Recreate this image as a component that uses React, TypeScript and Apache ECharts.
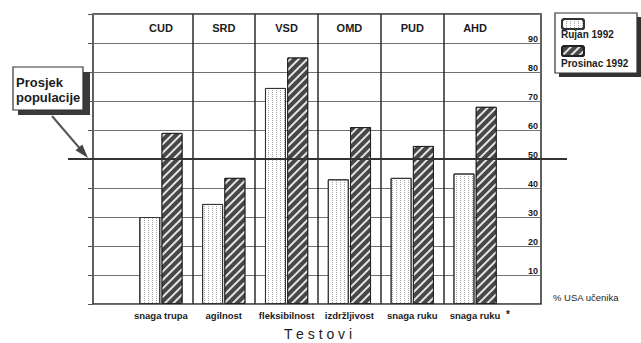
import React, { useEffect, useRef } from 'react';
import * as echarts from 'echarts';

// ---- data ----
const categories = ['CUD', 'SRD', 'VSD', 'OMD', 'PUD', 'AHD'];
const testNames = ['snaga trupa', 'agilnost', 'fleksibilnost', 'izdržljivost', 'snaga ruku', 'snaga ruku'];
const rujan1992 = [30, 34.5, 74.5, 43, 43.5, 45];
const prosinac1992 = [59, 43.5, 85, 61, 54.5, 68];
const populationAverage = 50;
const seriesNames = ['Rujan 1992', 'Prosinac 1992'];

// ---- layout ----
const W = 641;
const H = 343;
const FRAME_L = 93;
const FRAME_R = 541;
const BAR_L = 129.5;
const BAR_R = 506.5;
const AVG_L = 68;
const AVG_R = 567;
const TOP = 14;
const BOTTOM = 304;

export default function App() {
  const ref = useRef<HTMLDivElement>(null);
  useEffect(() => {
    if (!ref.current) return;
    const chart = echarts.init(ref.current, null, { renderer: 'svg' });
    const n = categories.length;
    const band = (BAR_R - BAR_L) / n;
    const xMin = -0.5 - (BAR_L - FRAME_L) / band;
    const xMax = n - 0.5 + (FRAME_R - BAR_R) / band;
    const separators = categories.slice(1).map((_, i) => i + 0.5);
    const font = "'Liberation Sans', Arial, sans-serif";
    const ink = '#1c1c1c';

    chart.setOption({
      animation: false,
      backgroundColor: '#ffffff',
      textStyle: { fontFamily: font },
      grid: [
        { left: FRAME_L, right: W - FRAME_R, top: TOP, bottom: H - BOTTOM, outerBoundsMode: 'none', containLabel: false, show: true, borderColor: '#2b2b2b', borderWidth: 1.5, backgroundColor: 'transparent' },
        { left: BAR_L, right: W - BAR_R, top: TOP, bottom: H - BOTTOM, outerBoundsMode: 'none', containLabel: false },
        { left: AVG_L, right: W - AVG_R, top: TOP, bottom: H - BOTTOM, outerBoundsMode: 'none', containLabel: false },
      ],
      xAxis: [
        { type: 'value', gridIndex: 0, min: xMin, max: xMax, show: false },
        {
          type: 'category', gridIndex: 1, data: categories, position: 'bottom',
          axisLine: { show: false, onZero: false }, axisTick: { show: false },
          axisLabel: {
            interval: 0, margin: 6, fontSize: 9.5, fontWeight: 'bold', color: ink, fontFamily: font,
            formatter: (_v: string, i: number) => testNames[i],
          },
          name: 'T e s t o v i', nameLocation: 'middle', nameGap: 23,
          nameTextStyle: { fontSize: 14, color: ink, fontFamily: font },
        },
        {
          type: 'category', gridIndex: 1, data: categories, position: 'top',
          axisLine: { show: false, onZero: false }, axisTick: { show: false },
          axisLabel: { interval: 0, inside: true, margin: 8, fontSize: 11, fontWeight: 'bold', color: ink, fontFamily: font },
        },
        { type: 'value', gridIndex: 2, min: 0, max: 1, show: false },
      ],
      yAxis: [
        {
          type: 'value', gridIndex: 0, min: 0, max: 100, interval: 10, position: 'right',
          axisLine: { show: false }, axisTick: { show: false },
          splitLine: { show: true, lineStyle: { color: '#727272', width: 1 } },
          axisLabel: {
            inside: true, margin: 3, fontSize: 9, fontWeight: 'bold', color: ink, fontFamily: font,
            verticalAlign: 'bottom',
            formatter: (v: number) => (v === 0 || v === 100 ? '' : String(v)),
          },
        },
        {
          type: 'value', gridIndex: 0, min: 0, max: 100, interval: 10, position: 'left',
          axisLine: { show: false }, axisTick: { show: true, length: 5, lineStyle: { color: '#555' } },
          axisLabel: { show: false }, splitLine: { show: false },
        },
        { type: 'value', gridIndex: 1, min: 0, max: 100, show: false },
        { type: 'value', gridIndex: 2, min: 0, max: 100, show: false },
      ],
      legend: [
        {
          data: [seriesNames[0]], left: 561, top: 18, itemWidth: 22, itemHeight: 10,
          formatter: () => '', selectedMode: false, z: 10, padding: 0,
        },
        {
          data: [seriesNames[1]], left: 561, top: 45, itemWidth: 22, itemHeight: 10,
          formatter: () => '', selectedMode: false, z: 10, padding: 0,
        },
      ],
      series: [
        {
          name: seriesNames[0], type: 'bar', xAxisIndex: 1, yAxisIndex: 2, data: rujan1992,
          barWidth: 21, barGap: '6%', z: 3,
          itemStyle: {
            color: '#ffffff', borderColor: '#333333', borderWidth: 1,
            decal: { symbol: 'rect', symbolSize: 1, color: 'rgba(80,80,80,0.5)', dashArrayX: [1, 3], dashArrayY: [1, 1], rotation: 0 },
          },
        },
        {
          name: seriesNames[1], type: 'bar', xAxisIndex: 1, yAxisIndex: 2, data: prosinac1992,
          barWidth: 21, z: 3,
          itemStyle: {
            color: '#474747', borderColor: '#222222', borderWidth: 1,
            decal: { symbol: 'rect', symbolSize: 1, color: 'rgba(255,255,255,0.85)', dashArrayX: [1, 0], dashArrayY: [2, 4], rotation: -Math.PI / 4 },
          },
        },
        {
          type: 'line', xAxisIndex: 0, yAxisIndex: 0, data: [[0, 0]], symbol: 'none', silent: true,
          lineStyle: { opacity: 0 }, z: 2,
          markLine: {
            silent: true, symbol: ['none', 'none'], label: { show: false },
            lineStyle: { color: '#2b2b2b', width: 1.5, type: 'solid' },
            data: separators.map((x) => ({ xAxis: x })),
          },
        },
        {
          type: 'line', xAxisIndex: 3, yAxisIndex: 3, data: [[0, 0]], symbol: 'none', silent: true,
          lineStyle: { opacity: 0 }, z: 10,
          markLine: {
            silent: true, symbol: ['none', 'none'], label: { show: false },
            lineStyle: { color: '#333333', width: 2.2, type: 'solid' },
            data: [{ yAxis: populationAverage }],
          },
        },
      ],
      graphic: [
        // legend box
        { type: 'rect', z: 5, shape: { x: 559, y: 17, width: 82, height: 60 }, style: { fill: '#333' } },
        { type: 'rect', z: 6, shape: { x: 555, y: 13, width: 82, height: 60 }, style: { fill: '#fff', stroke: '#333', lineWidth: 1.2 } },
        { type: 'text', z: 12, x: 561, y: 34, style: { text: seriesNames[0], fontSize: 10, fontWeight: 'bold', fontFamily: font, fill: ink, align: 'left', verticalAlign: 'middle' } },
        { type: 'text', z: 12, x: 561, y: 63, style: { text: seriesNames[1], fontSize: 10, fontWeight: 'bold', fontFamily: font, fill: ink, align: 'left', verticalAlign: 'middle' } },
        // population average callout
        { type: 'rect', z: 5, shape: { x: 18, y: 72, width: 72, height: 43 }, style: { fill: '#3a3a3a' } },
        { type: 'rect', z: 6, shape: { x: 13, y: 67, width: 70, height: 43 }, style: { fill: '#fff', stroke: '#333', lineWidth: 1.2 } },
        { type: 'text', z: 12, x: 16, y: 82, style: { text: 'Prosjek', fontSize: 13, fontWeight: 'bold', fontFamily: font, fill: ink, align: 'left', verticalAlign: 'middle' } },
        { type: 'text', z: 12, x: 16, y: 97, style: { text: 'populacije', fontSize: 13, fontWeight: 'bold', fontFamily: font, fill: ink, align: 'left', verticalAlign: 'middle' } },
        { type: 'line', z: 12, shape: { x1: 52, y1: 116, x2: 82, y2: 151 }, style: { stroke: '#555', lineWidth: 2 } },
        { type: 'polygon', z: 12, shape: { points: [[88, 158], [75.5, 150.3], [82.3, 144.5]] }, style: { fill: '#444' } },
        // axis caption and footnote mark
        { type: 'text', z: 12, x: 553, y: 297, style: { text: '% USA učenika', fontSize: 9.5, fontFamily: font, fill: ink, align: 'left', verticalAlign: 'middle' } },
        { type: 'text', z: 12, x: 506, y: 314, style: { text: '*', fontSize: 10, fontWeight: 'bold', fontFamily: font, fill: ink, align: 'left', verticalAlign: 'middle' } },
      ],
    });
    return () => chart.dispose();
  }, []);
  return <div ref={ref} style={{ position: 'fixed', left: 0, top: 0, width: W, height: H }} />;
}
